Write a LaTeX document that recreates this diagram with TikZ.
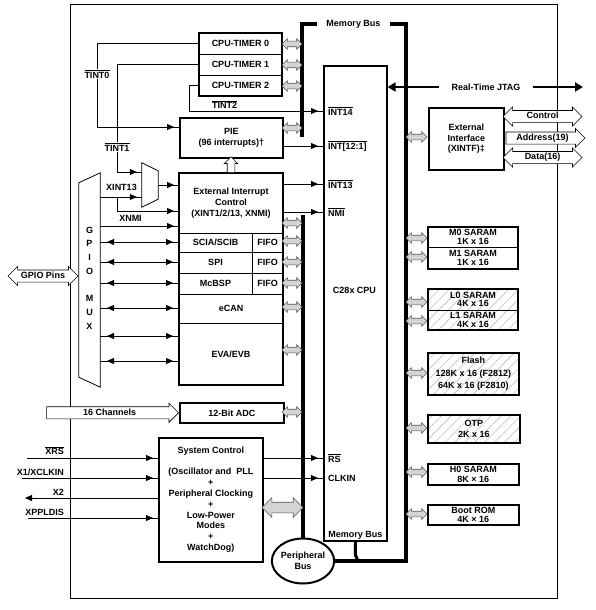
\documentclass[tikz,border=0pt]{standalone}
\usepackage{fontspec}
\setmainfont{Liberation Sans}
\usetikzlibrary{arrows.meta, positioning, calc, shapes.arrows, shapes.geometric, decorations.markings, patterns.meta}
\definecolor{BusFill}{gray}{0.83}
\definecolor{BusEdge}{gray}{0.35}
\definecolor{HatchGray}{gray}{0.75}
\newcommand{\ovl}[1]{$\overline{\mbox{#1}}$}
\newcommand{\blockbox}[6]{% name, x, y, width, height, text
    \node[unitbox, minimum width=#4pt, minimum height=#5pt] (#1) at (#2,#3) {#6};
}

\begin{document}
\begin{tikzpicture}[x=1pt, y=-1pt, font=\bfseries\fontsize{9}{10.8}\selectfont,
    >={Triangle[length=7pt,width=6pt]},
    unitbox/.style={draw, line width=1.6pt, anchor=north west, align=center, inner sep=0pt},
    cell/.style={draw, line width=0.8pt, outer sep=0pt, anchor=north west, align=center, inner sep=0pt},
    hatch/.style={pattern={Lines[angle=45, distance=7pt, line width=0.6pt]}, pattern color=HatchGray},
    mem/.style={font=\bfseries\fontsize{9}{#1}\selectfont},
    gbus/.style={double arrow, draw=BusEdge, fill=BusFill, line width=0.6pt, minimum height=20pt,
                 inner sep=0pt, text height=5pt, text depth=0pt, double arrow head extend=2.5pt},
    wide/.style={double arrow, draw, fill=white, line width=0.6pt, inner xsep=2pt, inner ysep=1.5pt,
                 text height=6.5pt, text depth=2pt, double arrow head extend=3.5pt},
    wideone/.style={single arrow, draw, fill=white, line width=0.6pt, inner xsep=2pt, inner ysep=1.5pt,
                 text height=6.5pt, text depth=2pt, single arrow head extend=3.5pt},
    sig/.style={line width=0.8pt},
    into/.style={sig, postaction={decorate},
                 decoration={markings, mark=at position -5pt with {\arrow{>}}}},
    both/.style={sig, postaction={decorate},
                 decoration={markings, mark=at position 7pt with {\arrowreversed{>}},
                                       mark=at position -6pt with {\arrow{>}}}},
    bus/.style={line width=4pt},
    jtag/.style={line width=2pt, -{Triangle[length=8pt,width=9pt]}},
    pinlbl/.style={anchor=west, inner sep=0pt},
    tag/.style={fill=white, inner sep=1pt}]

\useasboundingbox (0,0) rectangle (596,610);
\node[draw, line width=0.8pt, minimum width=487pt, minimum height=594pt, anchor=north west, inner sep=0pt] (chip) at (70,4) {};

% timers, PIE, CPU
\node[cell, minimum width=83pt, minimum height=21pt] (tmr0) at (199,33) {CPU-TIMER 0};
\node[cell, minimum width=83pt, minimum height=21pt] (tmr1) at (tmr0.south west) {CPU-TIMER 1};
\node[cell, minimum width=83pt, minimum height=21pt] (tmr2) at (tmr1.south west) {CPU-TIMER 2};
\draw[line width=1.6pt] (tmr0.north west) rectangle (tmr2.south east);

\blockbox{pie}{179}{117}{103}{40}{PIE\\(96 interrupts)†}
\blockbox{cpu}{323}{65}{63}{475}{}
\node (cpuname) at (354.5,290) {C28x CPU};
\node[anchor=south, inner sep=2pt] (mbcpu) at (cpu.south) {Memory Bus};
\blockbox{xintf}{428}{107}{75}{62}{External\\Interface\\(XINTF)‡}

% peripherals
\node[cell, minimum width=104pt, minimum height=60pt] (eic) at (179,173) {External Interrupt\\Control\\(XINT1/2/13, XNMI)};
\node[cell, minimum width=73pt, minimum height=19pt] (sci) at (eic.south west) {SCIA/SCIB};
\node[cell, minimum width=31pt, minimum height=19pt] (scififo) at (sci.north east) {FIFO};
\node[cell, minimum width=73pt, minimum height=21pt] (spi) at (sci.south west) {SPI};
\node[cell, minimum width=31pt, minimum height=21pt] (spififo) at (spi.north east) {FIFO};
\node[cell, minimum width=73pt, minimum height=21pt] (mcbsp) at (spi.south west) {McBSP};
\node[cell, minimum width=31pt, minimum height=21pt] (mcbspfifo) at (mcbsp.north east) {FIFO};
\node[cell, minimum width=104pt, minimum height=29pt] (ecan) at (mcbsp.south west) {eCAN};
\node[cell, minimum width=104pt, minimum height=62pt] (eva) at (ecan.south west) {EVA/EVB};
\draw[line width=1.6pt] (eic.north west) rectangle (eva.south east);

\blockbox{adc}{179}{402}{104}{20}{12-Bit ADC}
\blockbox{sysctl}{158}{437}{104}{124}{System Control\\[10.5pt](Oscillator and\ \ PLL\\+\\Peripheral Clocking\\+\\Low-Power\\Modes\\+\\WatchDog)}

% memories
\node[cell, mem=9.5, minimum width=90pt, minimum height=20pt] (m0) at (428,227) {M0 SARAM\\1K x 16};
\node[cell, mem=9.5, minimum width=90pt, minimum height=22pt] (m1) at (m0.south west) {M1 SARAM\\1K x 16};
\draw[line width=1.6pt] (m0.north west) rectangle (m1.south east);
\node[cell, hatch, mem=8.5, minimum width=90pt, minimum height=21pt] (l0) at (428,289) {L0 SARAM\\4K x 16};
\node[cell, hatch, mem=8.5, minimum width=90pt, minimum height=20pt] (l1) at (l0.south west) {L1 SARAM\\4K x 16};
\draw[line width=1.6pt] (l0.north west) rectangle (l1.south east);
\node[unitbox, hatch, mem=12.3, minimum width=91pt, minimum height=42pt] (flash) at (427,352) {Flash\\128K x 16 (F2812)\\64K x 16 (F2810)};
\node[unitbox, hatch, mem=11.6, minimum width=92pt, minimum height=28pt] (otp) at (427,414) {OTP\\2K x 16};
\node[unitbox, mem=10.5, minimum width=91pt, minimum height=21pt] (h0) at (427,463) {H0 SARAM\\8K × 16};
\node[unitbox, mem=9, minimum width=91pt, minimum height=20pt] (boot) at (427,504) {Boot ROM\\4K × 16};

% GPIO mux and interrupt mux
\node[minimum width=21pt, minimum height=214pt, inner sep=0pt] (gpio) at (89.5,280) {};
\draw[line width=0.8pt] (gpio.north east) -- (gpio.south east) -- ([yshift=10pt]gpio.south west) -- ([yshift=-10pt]gpio.north west) -- cycle;
\node[align=center, font=\bfseries\fontsize{9}{13.7}\selectfont, inner sep=0pt] (gpiotxt) at (89.5,278) {G\\P\\I\\O\\[13.7pt]M\\U\\X};
\node[minimum width=16pt, minimum height=44pt, inner sep=0pt] (mux) at (150,185) {};
\draw[line width=0.8pt] (mux.north west) -- ([yshift=-8pt]mux.north east) -- ([yshift=8pt]mux.south east) -- (mux.south west) -- cycle;

% buses
\node[inner xsep=9pt, inner ysep=0pt] (mbtop) at (353.5,24) {Memory Bus};
\node[draw, ellipse, line width=2pt, fill=white, minimum width=62pt, minimum height=45pt, inner sep=0pt, align=center] (pbus) at (303,561) {Peripheral\\Bus};
\draw[bus] (302,137) -- (302,24) -- (mbtop.west);
\draw[bus] (mbtop.east) -- (406,24) -- (406,561) -- (pbus.east);
\draw[bus] (pbus.north) -- (303,215);
\draw[line width=3pt] (cpu.south) -- ++(0,13) -- ++(3,7);

\foreach \yy in {44,65,86,128,223,241,262,283,307,350,412}
    \node[gbus] (gp\yy) at (292,\yy) {};
\foreach \yy in {137,238,257,302,321,373,428,472,514}
    \node[gbus, minimum height=21pt] (gm\yy) at (416.5,\yy) {};
\node[gbus, minimum height=41pt, text height=10pt, double arrow head extend=4.5pt] (gsys) at (282.5,507.5) {};

% CPU inputs
\coordinate (int14) at (323,111);
\coordinate (int12) at (323,146);
\coordinate (int13) at (323,184);
\coordinate (nmi) at (323,212);
\coordinate (rs) at (323,458);
\coordinate (clkin) at (323,478);
\node[pinlbl] (lint14) at (328,111) {\ovl{INT14}};
\node[pinlbl] (lint12) at (328,146) {\ovl{INT[12:1]}};
\node[pinlbl] (lint13) at (328,184) {\ovl{INT13}};
\node[pinlbl] (lnmi) at (328,212) {\ovl{NMI}};
\node[pinlbl] (lrs) at (328,458) {\ovl{RS}};
\node[pinlbl] (lclkin) at (328,478) {CLKIN};

% timer interrupts
\coordinate (c-t0) at (97,127);
\coordinate (c-t1) at (117,172);
\coordinate (c-t2) at (189,111);
\draw[into] (tmr0.west) -| (c-t0) -- (c-t0 -| pie.west);
\draw[into] (tmr1.west) -| (c-t1) -- (c-t1 -| mux.west);
\draw[into] (tmr2.west) -| (c-t2) -- (int14);
\node[tag] (lt0) at (97,74) {\ovl{TINT0}};
\node[tag] (lt1) at (117,147) {\ovl{TINT1}};
\node[anchor=south, inner sep=0pt] (lt2) at (224.5,109) {\ovl{TINT2}};

\draw[into] (int12 -| pie.east) -- (int12);
\draw[into] (int13 -| eic.east) -- (int13);
\draw[into] (nmi -| eic.east) -- (nmi);
\draw[into] (mux.east) -- (mux.east -| eic.west);
\node[wideone, rotate=90, minimum height=16pt, text height=0pt, text depth=0pt, inner sep=0pt, inner ysep=3.5pt,
      single arrow head extend=3pt, anchor=tail] (up) at (eic.north) {};

% GPIO side
\coordinate (c-x13) at (100,197);
\coordinate (c-br) at (117,197);
\coordinate (c-x1) at (117,211);
\coordinate (c-xn) at (100,226);
\draw[into] (c-x13) -- (c-x13 -| mux.west);
\draw[into] (c-br) -- (c-x1) -- (c-x1 -| eic.west);
\draw[into] (c-xn) -- (c-xn -| eic.west);
\node[anchor=south, inner sep=0pt] (lx13) at (121.5,191) {XINT13};
\node[anchor=south, inner sep=0pt] (lxn) at (130.5,222) {XNMI};
\foreach \yy/\dst in {242/sci, 262/spi, 283/mcbsp, 308/ecan, 336/eva, 361/eva} {
    \coordinate (c-p\yy) at (100,\yy);
    \draw[both] (c-p\yy) -- (c-p\yy -| \dst.west);
}
\node[wide, minimum height=70pt] (pins) at (43,276) {GPIO Pins};
\node[wideone, minimum height=132pt, anchor=tip] (chan) at (adc.west) {16 Channels};

% system control pins
\coordinate (xrs) at (27,458);
\coordinate (xclk) at (22,478);
\coordinate (x2) at (25,498);
\coordinate (xpll) at (28,518);
\draw[into] (xrs) -- (xrs -| sysctl.west);
\draw[into] (xclk) -- (xclk -| sysctl.west);
\draw[sig, ->] (x2 -| sysctl.west) -- (x2);
\draw[into] (xpll) -- (xpll -| sysctl.west);
\node[anchor=south east, inner sep=0pt] (lxrs) at (64,455) {\ovl{XRS}};
\node[anchor=south east, inner sep=0pt] (lxclk) at (64,475.5) {X1/XCLKIN};
\node[anchor=south east, inner sep=0pt] (lx2) at (64,496) {X2};
\node[anchor=south east, inner sep=0pt] (lxpll) at (64,516) {XPPLDIS};
\draw[into] (rs -| sysctl.east) -- (rs);
\draw[into] (clkin -| sysctl.east) -- (clkin);

% JTAG and external interface
\node[inner xsep=12pt, inner ysep=0pt] (jtag) at (486,87) {Real-Time JTAG};
\coordinate (jtagR) at (583,87);
\draw[jtag] (jtag.west) -- (jtag.west -| cpu.east);
\draw[jtag] (jtag.east) -- (jtagR);
\node[wide, minimum height=79pt] (ctl) at (542.5,116.5) {Control};
\node[wideone, minimum height=79pt] (addr) at (542.5,138) {Address(19)};
\node[wide, minimum height=79pt] (data) at (542.5,157.5) {Data(16)};

\end{tikzpicture}
\end{document}
